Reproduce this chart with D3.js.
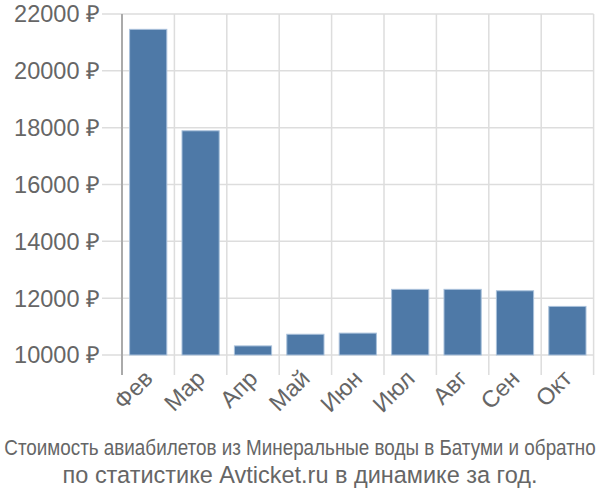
<!DOCTYPE html>
<html><head><meta charset="utf-8">
<script src="https://cdn.jsdelivr.net/npm/d3@7"></script>
<style>body{margin:0;background:#fff}svg{display:block}</style>
</head><body>
<svg id="chart" width="600" height="500"></svg>
<script>
const categories = ["Фев","Мар","Апр","Май","Июн","Июл","Авг","Сен","Окт"];
const values = [21460, 17890, 10320, 10730, 10770, 12310, 12310, 12260, 11710];
const yTicks = [10000, 12000, 14000, 16000, 18000, 20000, 22000];
const caption = ["Стоимость авиабилетов из Минеральные воды в Батуми и обратно",
                 "по статистике Avticket.ru в динамике за год."];

(function () {
const svg = d3.select("#chart");
const mLeft = 122, mRight = 593.6, mTop = 14, mBottom = 355;
const x = d3.scaleBand().domain(categories).range([mLeft, mRight]).paddingInner(0.29).paddingOuter(0.145);
const y = d3.scaleLinear().domain([10000, 22000]).range([mBottom, mTop]);
const textColor = "#666";
const font = "'Liberation Sans', Arial, sans-serif";

function measure(str, size) {
  const t = svg.append("text").style("font-family", font).style("font-size", size + "px").text(str);
  const w = t.node().getComputedTextLength();
  t.remove();
  return w;
}
const labelSize = 20 * 86 / measure("22000 ₽", 20);
const cap2Size = 20 * 475 / measure(caption[1], 20);
const cap1Scale = 592 / measure(caption[0], 22);

// horizontal grid
svg.append("g").selectAll("line").data(yTicks).join("line")
  .attr("x1", 102).attr("x2", mRight)
  .attr("y1", d => y(d)).attr("y2", d => y(d))
  .attr("stroke", "#dddddd").attr("stroke-width", 1.5);

// vertical grid at band boundaries
const bounds = categories.map(c => x(c) - x.step() * x.paddingInner() / 2).slice(1).concat([mRight]);
svg.append("g").selectAll("line").data(bounds).join("line")
  .attr("x1", d => d).attr("x2", d => d)
  .attr("y1", mTop).attr("y2", 375)
  .attr("stroke", "#dddddd").attr("stroke-width", 1.5);

// y labels
svg.append("g").selectAll("text").data(yTicks).join("text")
  .attr("x", 100).attr("y", d => y(d)).attr("dy", "0.36em")
  .attr("text-anchor", "end").attr("fill", textColor)
  .style("font-family", font).style("font-size", labelSize + "px")
  .text(d => d + " ₽");

// bars
svg.append("g").selectAll("rect").data(values).join("rect")
  .attr("x", (d, i) => x(categories[i]))
  .attr("width", x.bandwidth())
  .attr("y", d => y(d))
  .attr("height", d => y(10000) - y(d))
  .attr("fill", "#4e79a7")
  .attr("stroke", "#a9c1db").attr("stroke-width", 1);

// y axis line
svg.append("line").attr("x1", mLeft).attr("x2", mLeft).attr("y1", mTop).attr("y2", 375)
  .attr("stroke", "#aaaaaa").attr("stroke-width", 2);

// x labels
svg.append("g").selectAll("text").data(categories).join("text")
  .attr("transform", c => `translate(${x(c) + x.bandwidth() / 2 + 6},${380}) rotate(-45)`)
  .attr("text-anchor", "end").attr("fill", textColor)
  .style("font-family", font).style("font-size", labelSize + "px")
  .text(c => c);

// caption
const cap = svg.append("g");
cap.append("text").attr("transform", `translate(300,455) scale(${Math.min(1, cap1Scale)},1)`)
  .attr("text-anchor", "middle").attr("fill", textColor)
  .style("font-family", font).style("font-size", "22px")
  .text(caption[0]);
cap.append("text").attr("x", 300).attr("y", 483)
  .attr("text-anchor", "middle").attr("fill", textColor)
  .style("font-family", font).style("font-size", cap2Size + "px")
  .text(caption[1]);
})();
</script>
</body></html>
